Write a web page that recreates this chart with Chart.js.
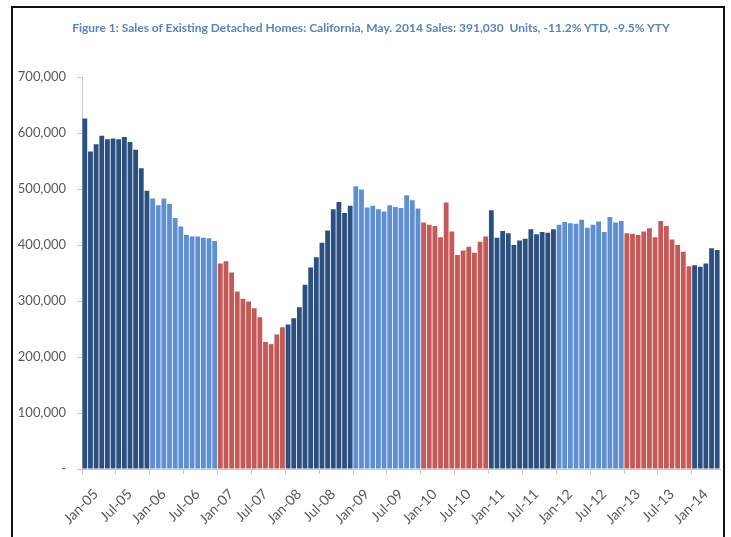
<!DOCTYPE html>
<html>
<head>
<meta charset="utf-8">
<script src="https://cdn.jsdelivr.net/npm/chart.js@4.4.1/dist/chart.umd.min.js"></script>
<style>
    html, body { margin: 0; padding: 0; background: #fff; }
    #wrap { position: relative; width: 731px; height: 537px; overflow: hidden; }
    #frame {
        position: absolute; left: 11px; top: 6px; width: 710px; height: 600px;
        border: 2px solid #111; pointer-events: none;
    }
    #title {
        position: absolute; left: 0; width: 742px; top: 20px; text-align: center;
        font: bold 12px Lato, sans-serif; color: #5585c0; white-space: nowrap;
    }
    #box { position: absolute; left: 0; top: 0; width: 731px; height: 537px; }
</style>
</head>
<body>
<div id="wrap">
    <div id="box"><canvas id="salesChart"></canvas></div>
    <div id="title">Figure 1: Sales of Existing Detached Homes: California, May. 2014 Sales: 391,030&nbsp; Units, -11.2% YTD, -9.5% YTY</div>
    <div id="frame"></div>
</div>
<script>
let years = ["05", "06", "07", "08", "09", "10", "11", "12", "13", "14"]
let month_names = ["Jan", "Feb", "Mar", "Apr", "May", "Jun", "Jul", "Aug", "Sep", "Oct", "Nov", "Dec"]

// units sold per month
let sales_2005 = [626000, 567000, 580000, 595000, 589000, 590000, 589000, 593000, 584000, 570000, 537000, 497000]
let sales_2006 = [483000, 471000, 483000, 473000, 448000, 433000, 418000, 415000, 415000, 413000, 412000, 407000]
let sales_2007 = [367000, 371000, 351000, 317000, 304000, 299000, 287000, 271000, 227000, 223000, 240000, 253000]
let sales_2008 = [258000, 269000, 289000, 329000, 360000, 378000, 404000, 426000, 464000, 477000, 457000, 470000]
let sales_2009 = [505000, 499000, 467000, 470000, 464000, 460000, 471000, 468000, 466000, 489000, 480000, 465000]
let sales_2010 = [440000, 436000, 434000, 414000, 476000, 424000, 382000, 390000, 397000, 386000, 406000, 415000]
let sales_2011 = [462000, 413000, 425000, 421000, 400000, 408000, 411000, 428000, 419000, 423000, 422000, 428000]
let sales_2012 = [436000, 441000, 439000, 438000, 445000, 431000, 436000, 442000, 423000, 450000, 440000, 443000]
let sales_2013 = [421000, 420000, 418000, 424000, 430000, 414000, 443000, 434000, 410000, 400000, 388000, 362000]
let sales_2014 = [364000, 361000, 367000, 394000, 391030]

let y_ticks = [0, 100000, 200000, 300000, 400000, 500000, 600000, 700000]

let sales = [].concat(sales_2005, sales_2006, sales_2007, sales_2008, sales_2009,
    sales_2010, sales_2011, sales_2012, sales_2013, sales_2014)

let months = []
for (let y of years) {
    for (let m of month_names) {
        if (months.length < sales.length) months.push(`${m}-${y}`)
    }
}

let year_colors = ["#2b4f80", "#5f8fd3", "#c55957"]

const ctx = document.getElementById('salesChart').getContext('2d')

new Chart(ctx, {
    type: 'bar',
    data: {
        labels: months,
        datasets: [{
            data: sales,
            backgroundColor: c => year_colors[Math.floor(c.dataIndex / 12) % 3],
            borderWidth: 0,
            barPercentage: 0.85,
            categoryPercentage: 1.0
        }]
    },
    options: {
        responsive: true,
        maintainAspectRatio: false,
        animation: false,
        layout: { padding: { top: 77, right: 11, left: 0, bottom: 0 } },
        plugins: {
            legend: { display: false },
            tooltip: { enabled: false }
        },
        scales: {
            x: {
                offset: true,
                afterFit: s => {
                    s.height = 68
                    s.paddingLeft = 0
                    s.paddingRight = 0
                },
                grid: {
                    offset: true,
                    drawOnChartArea: false,
                    tickLength: 5,
                    color: c => (c.index % 6 === 0 ? '#c8c8c8' : 'rgba(0,0,0,0)')
                },
                border: { display: true, color: '#c8c8c8' },
                ticks: {
                    autoSkip: false,
                    maxRotation: 45,
                    minRotation: 45,
                    labelOffset: 11,
                    padding: 12,
                    color: '#595959',
                    font: { family: 'Lato', size: 14 },
                    callback: (v, i) => (i % 6 === 0 ? months[i] : '')
                }
            },
            y: {
                min: 0,
                max: 700000,
                afterFit: s => { s.width = 82 },
                afterBuildTicks: s => { s.ticks = y_ticks.map(v => ({ value: v })) },
                grid: { drawOnChartArea: false, tickLength: 5, color: '#c8c8c8' },
                border: { display: true, color: '#c8c8c8' },
                ticks: {
                    padding: 11,
                    color: '#595959',
                    font: { family: 'Lato', size: 13 },
                    callback: v => (v === 0 ? '-' : v.toLocaleString('en-US'))
                }
            }
        }
    }
})
</script>
</body>
</html>
